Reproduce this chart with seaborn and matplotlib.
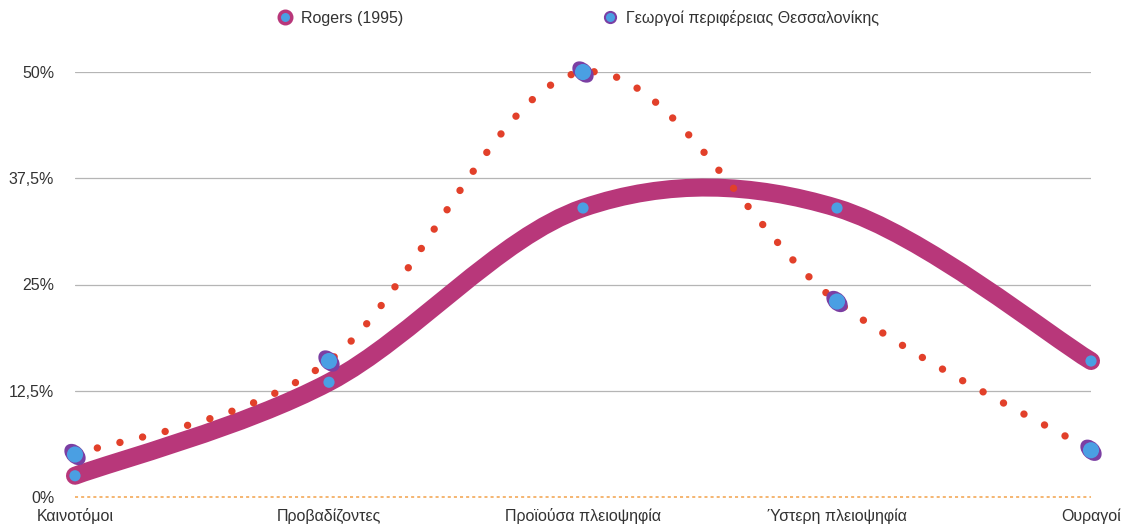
import numpy as np
import pandas as pd
import matplotlib
matplotlib.use("Agg")
import matplotlib.pyplot as plt
import seaborn as sns
from matplotlib.path import Path
from matplotlib.patches import PathPatch
from matplotlib.transforms import Affine2D
from matplotlib.lines import Line2D

categories = ["Καινοτόμοι", "Προβαδίζοντες", "Προϊούσα πλειοψηφία", "Ύστερη πλειοψηφία", "Ουραγοί"]
rogers = [2.5, 13.5, 34.0, 34.0, 16.0]
farmers = [5.0, 16.0, 50.0, 23.0, 5.5]
ytick_values = [0, 12.5, 25, 37.5, 50]
ytick_labels = ["0%", "12,5%", "25%", "37,5%", "50%"]
series_names = ["Rogers (1995)", "Γεωργοί περιφέρειας Θεσσαλονίκης"]

MAGENTA = "#b8377a"
BLUE = "#4a9fe3"
RED = "#e2402a"
PURPLE = "#7b3fa3"
TEXT = "#333333"
FS = 11.5

sns.set_theme(style="white")
plt.rcParams["font.family"] = ["Liberation Sans", "DejaVu Sans"]

W, H = 1130, 525
fig = plt.figure(figsize=(W / 100, H / 100), dpi=100)
# axes: x from 75 to 1091 px, y 0% at 497 px, 50% at 72 px
ax = fig.add_axes([75 / W, (H - 497) / H, (1091 - 75) / W, (497 - 72) / H])
ax.set_xlim(0, len(categories) - 1)
ax.set_ylim(0, 50)

xs = np.arange(len(categories), dtype=float)


def smooth_path(x, y):
    # Catmull-Rom spline as cubic Bezier segments (rendering only)
    pts = np.column_stack([x, y])
    n = len(pts)
    verts = [pts[0]]
    codes = [Path.MOVETO]
    for i in range(n - 1):
        p0 = pts[i - 1] if i > 0 else pts[i]
        p1 = pts[i]
        p2 = pts[i + 1]
        p3 = pts[i + 2] if i + 2 < n else pts[i + 1]
        c1 = p1 + (p2 - p0) / 6.0
        c2 = p2 - (p3 - p1) / 6.0
        verts += [c1, c2, p2]
        codes += [Path.CURVE4] * 3
    return Path(verts, codes)


# gridlines
for v in ytick_values[1:]:
    ax.axhline(v, color="#b5b5b5", lw=0.9, zorder=1)
ax.axhline(0, color="#f2a24a", lw=1.1, ls=(0, (2, 2)), zorder=1, clip_on=False)

# Rogers thick smooth line
pr = PathPatch(smooth_path(xs, np.array(rogers)), facecolor="none", edgecolor=MAGENTA,
               lw=13.0, capstyle="round", joinstyle="round", zorder=3, clip_on=False)
ax.add_patch(pr)

# Farmers dotted smooth line
pf = PathPatch(smooth_path(xs, np.array(farmers)), facecolor="none", edgecolor=RED,
               lw=5.3, linestyle=(0, (0.01, 3.15)), capstyle="round", zorder=4, clip_on=False)
ax.add_patch(pf)

df_r = pd.DataFrame({"x": xs, "y": rogers})
df_f = pd.DataFrame({"x": xs, "y": farmers})

# Rogers markers
sns.scatterplot(data=df_r, x="x", y="y", ax=ax, color=BLUE, s=65, edgecolor="none",
                zorder=6, clip_on=False, legend=False)

# Farmers markers: purple rotated ellipse + blue circle
ell = Path.unit_circle().transformed(Affine2D().scale(1.0, 0.7).rotate_deg(-45))
sns.scatterplot(data=df_f, x="x", y="y", ax=ax, marker=ell, color=PURPLE, s=250,
                edgecolor="none", zorder=7, clip_on=False, legend=False)
sns.scatterplot(data=df_f, x="x", y="y", ax=ax, color=BLUE, s=135, edgecolor="none",
                zorder=8, clip_on=False, legend=False)

# axes styling
for s in ax.spines.values():
    s.set_visible(False)
ax.set_xticks(xs)
ax.set_xticklabels(categories, fontsize=FS, color=TEXT)
ax.set_yticks(ytick_values)
ax.set_yticklabels(ytick_labels, fontsize=FS, color=TEXT)
ax.tick_params(axis="y", length=0, pad=15)
ax.tick_params(axis="x", length=0, pad=8)
ax.set_xlabel("")
ax.set_ylabel("")
ax.grid(False)

# legend
h1 = Line2D([], [], marker="o", ls="none", markersize=9, markerfacecolor=BLUE,
            markeredgecolor=MAGENTA, markeredgewidth=2.5)
h2 = Line2D([], [], marker="o", ls="none", markersize=8, markerfacecolor=BLUE,
            markeredgecolor=PURPLE, markeredgewidth=1.5)
fig.legend([h1, h2], series_names, loc="center", bbox_to_anchor=(578 / W, 1 - 18 / H),
           ncol=2, frameon=False, fontsize=FS, columnspacing=12.5, handletextpad=0.5,
           handlelength=1.0, labelcolor=TEXT)

fig.savefig("out.png", dpi=100)
